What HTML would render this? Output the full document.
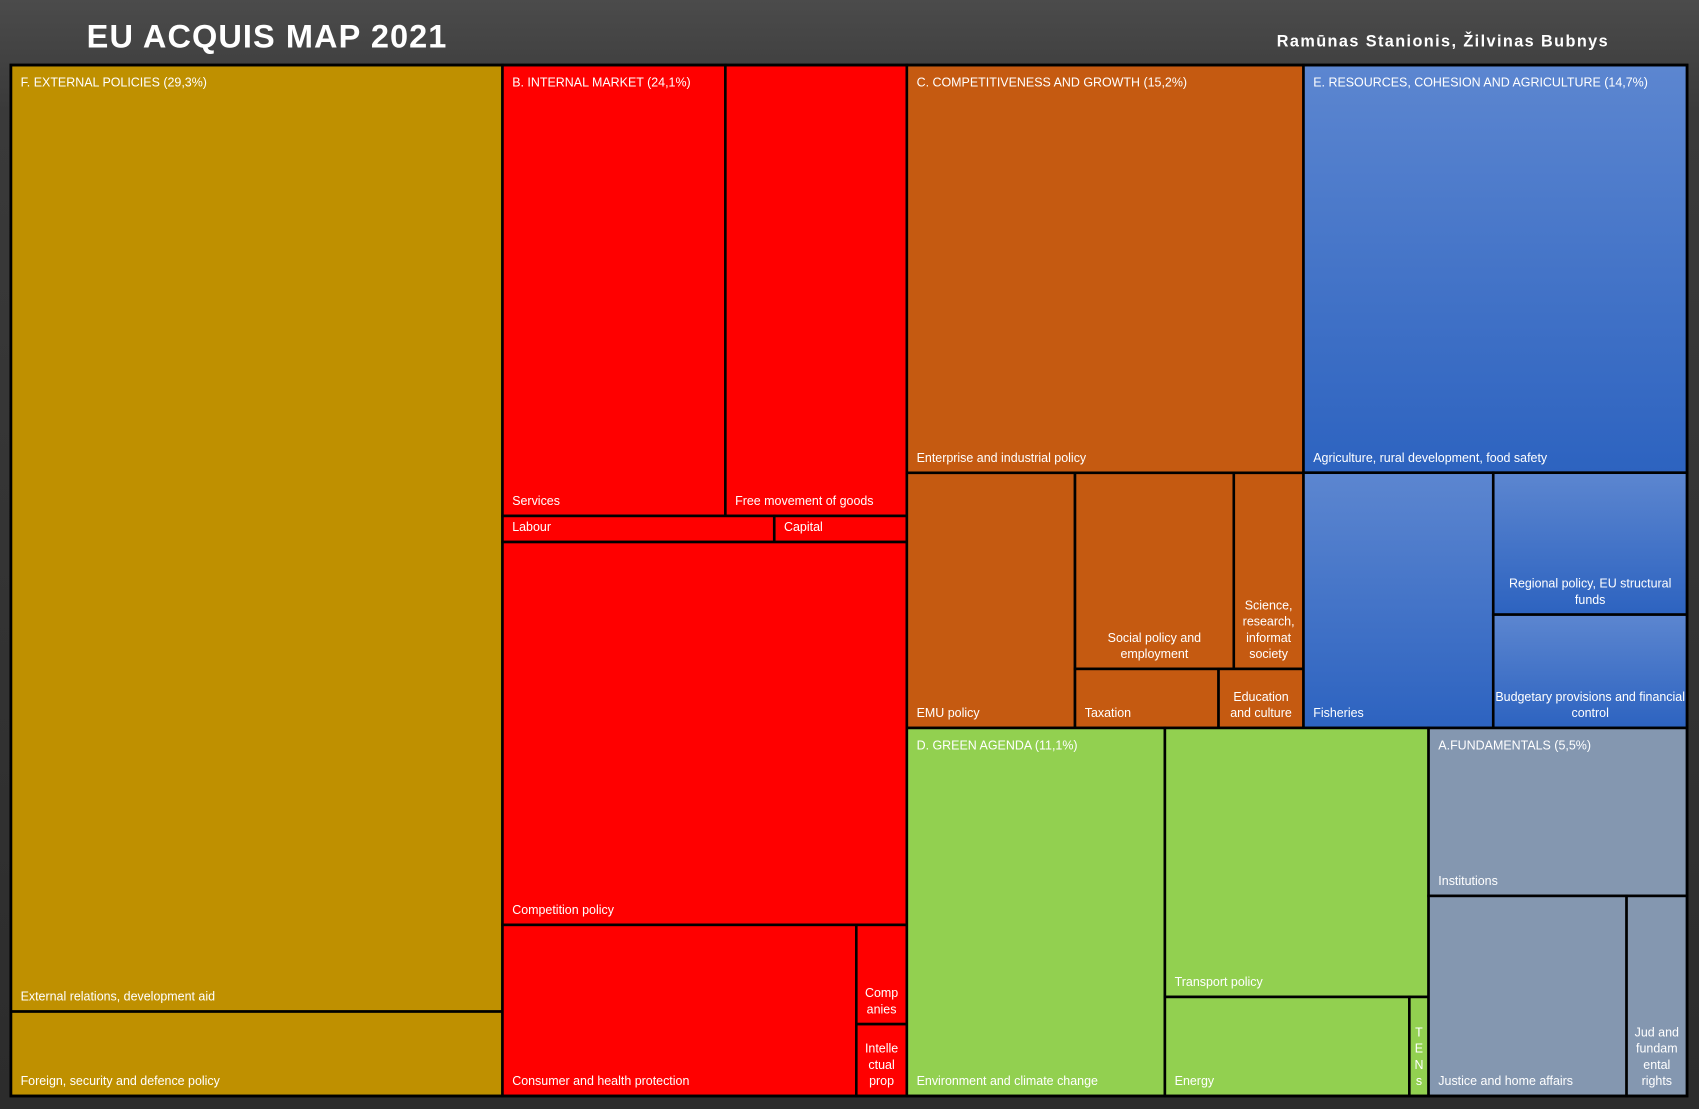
<!DOCTYPE html>
<html><head><meta charset="utf-8"><style>
html,body{margin:0;padding:0;background:#333;}
svg{display:block;}
text{font-family:"Liberation Sans",Arial,sans-serif;}
</style></head><body>
<svg id="chart" width="1699" height="1109" viewBox="0 0 1568 1023" preserveAspectRatio="none" xmlns="http://www.w3.org/2000/svg">
<defs>
<linearGradient id="bg" x1="0" y1="0" x2="0" y2="1"><stop offset="0" stop-color="#4b4b4b"/><stop offset="0.1" stop-color="#3a3a3a"/><stop offset="1" stop-color="#2c2c2c"/></linearGradient>
<linearGradient id="blue" x1="0" y1="0" x2="0" y2="1"><stop offset="0" stop-color="#5c86d0"/><stop offset="1" stop-color="#2d63c0"/></linearGradient>
</defs>
<rect width="1568" height="1023" fill="url(#bg)"/>
<text x="80" y="44" fill="#fff" font-size="30" font-weight="bold" letter-spacing="1">EU ACQUIS MAP 2021</text>
<text x="1485" y="43" fill="#fff" font-size="15" font-weight="bold" letter-spacing="1.3" text-anchor="end">Ramūnas Stanionis, Žilvinas Bubnys</text>
<g id="cells"></g>
</svg>
<script>
// Leaf data (share of acquis, %)
const leafNames = ["External relations, development aid","Foreign, security and defence policy",
"Services","Free movement of goods","Labour","Capital","Competition policy","Consumer and health protection","Comp|anies","Intelle|ctual|prop",
"Enterprise and industrial policy","EMU policy","Social policy and|employment","Science,|research,|informat|society","Taxation","Education|and culture",
"Agriculture, rural development, food safety","Fisheries","Regional policy, EU structural|funds","Budgetary provisions and financial|control",
"Environment and climate change","Transport policy","Energy","T|E|N|s",
"Institutions","Justice and home affairs","Jud and|fundam|ental|rights"];
const leafValues = [26.9,2.4, 5.81,4.73,0.41,0.20,8.95,3.50,0.29,0.21,
9.35,2.48,1.80,0.79,0.49,0.29, 9.04,2.80,1.59,1.27, 5.49,4.10,1.40,0.11, 2.51,2.29,0.70];
const leafCenter = [0,0, 0,0,0,0,0,0,1,1, 0,0,1,1,0,1, 0,0,1,1, 0,0,0,1, 0,0,1];
const groupTitles = ["F. EXTERNAL POLICIES (29,3%)","B. INTERNAL MARKET (24,1%)","C. COMPETITIVENESS AND GROWTH (15,2%)","E. RESOURCES, COHESION AND AGRICULTURE (14,7%)","D. GREEN AGENDA (11,1%)","A.FUNDAMENTALS (5,5%)"];
const groupColors = ["#bf9000","#ff0000","#c55a11","url(#blue)","#92d050","#8497b0"];
// tree: [dir, children]; number = leaf index; {g:i, n:node} = group
const tree = ['h',[
 {g:0,n:['v',[0,1]]},
 {g:1,n:['v',[['h',[2,3]],['h',[4,5]],6,['h',[7,['v',[8,9]]]]]]},
 ['v',[
  ['h',[{g:2,n:['v',[10,['h',[11,['v',[['h',[12,13]],['h',[14,15]]]]]]]]},
        {g:3,n:['v',[16,['h',[17,['v',[18,19]]]]]]}]],
  ['h',[{g:4,n:['h',[20,['v',[21,['h',[22,23]]]]]]},
        {g:5,n:['v',[24,['h',[25,26]]]]}]]
 ]]
]];
const X0=10,Y0=60,X1=1557,Y1=1011;
const G=document.getElementById('cells');
const NS='http://www.w3.org/2000/svg';
function total(n){ if(typeof n==='number') return leafValues[n]; if(n.g!==undefined) return total(n.n); return n[1].reduce((s,c)=>s+total(c),0);}
function mk(tag,attrs){const e=document.createElementNS(NS,tag);for(const k in attrs)e.setAttribute(k,attrs[k]);return e;}
function layout(n,x,y,w,h,color,title){
 if(n.g!==undefined){ layout(n.n,x,y,w,h,groupColors[n.g],groupTitles[n.g]); return; }
 if(typeof n==='number'){
  const r=mk('rect',{x:x,y:y,width:w,height:h,fill:color,stroke:'#000','stroke-width':2.4});
  
  
  G.appendChild(r);
  const lines=leafNames[n].split('|');
  const c=leafCenter[n];
  const t=mk('text',{fill:'#fff','font-size':11.5,'text-anchor':c?'middle':'start'});
  
  
  const lx=c?x+w/2:x+9;
  lines.forEach((l,i)=>{const s=mk('tspan',{x:lx,y:y+h-10-(lines.length-1-i)*15});s.textContent=l;t.appendChild(s);});
  G.appendChild(t);
  if(title){
   const tt=mk('text',{x:x+9,y:y+20,fill:'#fff','font-size':11.5});
   
   
   tt.textContent=title;
   G.appendChild(tt);
  }
  return;
 }
 const T=total(n); let off=0;
 n[1].forEach((c,i)=>{
  const f=total(c)/T;
  const ti=i===0?title:null;
  if(n[0]==='h'){layout(c,x+off,y,w*f,h,color,ti);off+=w*f;}
  else{layout(c,x,y+off,w,h*f,color,ti);off+=h*f;}
 });
}
layout(tree,X0,Y0,X1-X0,Y1-Y0,null,null);
const border=mk('rect',{x:X0,y:Y0,width:X1-X0,height:Y1-Y0,fill:'none',stroke:'#000','stroke-width':2.5});


G.appendChild(border);
</script>
</body></html>
